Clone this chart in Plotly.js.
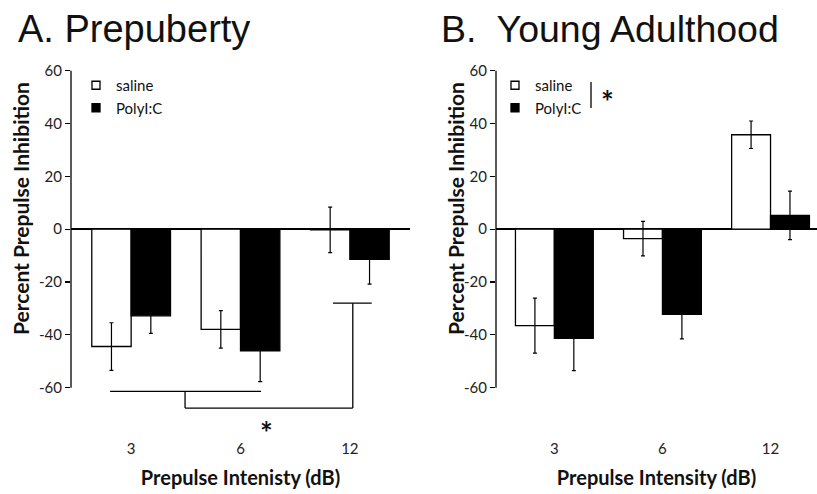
<!DOCTYPE html>
<html>
<head>
<meta charset="utf-8">
<script src="https://cdn.plot.ly/plotly-3.0.1.min.js"></script>
<style>html,body{margin:0;padding:0;background:#fff;}#chart{width:817px;height:494px;}</style>
</head>
<body>
<div id="chart"></div>
<script>
// ---- data ----
var categories = ['3', '6', '12'];
var prepubertySaline = [-44.4, -37.9, -0.3];
var prepubertySalineErr = [9.0, 7.1, 8.6];
var prepubertyPoly = [-32.8, -46.0, -11.4];
var prepubertyPolyErr = [6.6, 11.7, 9.4];
var adultSaline = [-36.5, -3.6, 35.7];
var adultSalineErr = [10.4, 6.5, 5.2];
var adultPoly = [-41.3, -32.2, 5.2];
var adultPolyErr = [12.2, 9.3, 9.2];
var yTicks = [-60, -40, -20, 0, 20, 40, 60];
var seriesNames = ['saline', 'PolyI:C'];

var FONT = 'Lato, "Open Sans", sans-serif';
var W = 817, H = 494;
function px(x) { return x / W; }
function py(y) { return 1 - y / H; }

function barTrace(vals, errs, isSaline, xa, ya) {
  return {
    type: 'bar', x: categories, y: vals, xaxis: xa, yaxis: ya,
    name: isSaline ? seriesNames[0] : seriesNames[1],
    showlegend: false,
    marker: { color: isSaline ? '#ffffff' : '#000000', line: { color: '#000000', width: 1.3 } },
    error_y: { type: 'data', array: errs, visible: true, color: '#000000', thickness: 1.2, width: 2 },
    hoverinfo: 'x+y'
  };
}
function legendTrace(isSaline, legendId) {
  return {
    type: 'scatter', mode: 'markers', x: [null], y: [null],
    name: isSaline ? seriesNames[0] : seriesNames[1],
    legend: legendId, legendgroup: legendId + (isSaline ? 's' : 'p'),
    marker: { symbol: 'square', size: 8, color: isSaline ? '#ffffff' : '#000000', line: { color: '#000000', width: 1.3 } },
    xaxis: legendId === 'legend' ? 'x' : 'x2', yaxis: legendId === 'legend' ? 'y' : 'y2',
    hoverinfo: 'skip'
  };
}

var data = [
  barTrace(prepubertySaline, prepubertySalineErr, true, 'x', 'y'),
  barTrace(prepubertyPoly, prepubertyPolyErr, false, 'x', 'y'),
  barTrace(adultSaline, adultSalineErr, true, 'x2', 'y2'),
  barTrace(adultPoly, adultPolyErr, false, 'x2', 'y2'),
  legendTrace(true, 'legend'), legendTrace(false, 'legend'),
  legendTrace(true, 'legend2'), legendTrace(false, 'legend2')
];

var yDomain = [py(438), py(70.5)];
var yAxisBase = {
  domain: yDomain, range: [-79, 60], tickvals: yTicks, ticktext: yTicks.map(String),
  ticks: 'outside', ticklen: 5, tickcolor: '#000', tickwidth: 1.2,
  showline: false, showgrid: false, zeroline: true, zerolinecolor: '#000', zerolinewidth: 1.5,
  tickfont: { family: FONT, size: 15, color: '#222' }, fixedrange: true
};
var xAxisBase = {
  type: 'category', showline: false, showgrid: false, zeroline: false, ticks: '',
  tickfont: { family: FONT, size: 15, color: '#222' }, fixedrange: true
};

var layout = {
  width: W, height: H,
  margin: { l: 0, r: 0, t: 0, b: 0 },
  paper_bgcolor: '#fff', plot_bgcolor: 'rgba(0,0,0,0)',
  barmode: 'group', bargap: 0.28, bargroupgap: 0,
  xaxis: Object.assign({}, xAxisBase, {
    domain: [px(71), px(410)], range: [-0.55, 2.55], anchor: 'y',
    title: { text: 'Prepulse Intenisty (dB)', font: { family: FONT, size: 20, color: '#111', weight: 'bold' }, standoff: 14 }
  }),
  yaxis: Object.assign({}, yAxisBase, { anchor: 'x' }),
  xaxis2: Object.assign({}, xAxisBase, {
    domain: [px(496), 1], range: [-0.54, 2.43], anchor: 'y2',
    title: { text: 'Prepulse Intensity (dB)', font: { family: FONT, size: 20, color: '#111', weight: 'bold' }, standoff: 14 }
  }),
  yaxis2: Object.assign({}, yAxisBase, { anchor: 'x2' }),
  legend: {
    x: px(76), y: py(69), xanchor: 'left', yanchor: 'top', bgcolor: 'rgba(0,0,0,0)',
    font: { family: FONT, size: 15, color: '#111' }, tracegroupgap: 0, itemclick: false, itemdoubleclick: false
  },
  legend2: {
    x: px(495), y: py(69), xanchor: 'left', yanchor: 'top', bgcolor: 'rgba(0,0,0,0)',
    font: { family: FONT, size: 15, color: '#111' }, tracegroupgap: 0, itemclick: false, itemdoubleclick: false
  },
  shapes: [
    // y axis lines (from -60 to 60)
    { type: 'line', xref: 'x domain', yref: 'y', x0: 0, x1: 0, y0: -60, y1: 60, line: { color: '#000', width: 1.3 } },
    { type: 'line', xref: 'x2 domain', yref: 'y2', x0: 0, x1: 0, y0: -60, y1: 60, line: { color: '#000', width: 1.3 } },
    // significance bracket panel A
    { type: 'line', xref: 'x', yref: 'y', x0: -0.193, x1: 1.188, y0: -61.4, y1: -61.4, line: { color: '#000', width: 1.3 } },
    { type: 'line', xref: 'x', yref: 'y', x0: 0.493, x1: 0.493, y0: -61.4, y1: -67.7, line: { color: '#000', width: 1.3 } },
    { type: 'line', xref: 'x', yref: 'y', x0: 0.493, x1: 2.027, y0: -67.7, y1: -67.7, line: { color: '#000', width: 1.3 } },
    { type: 'line', xref: 'x', yref: 'y', x0: 2.027, x1: 2.027, y0: -67.7, y1: -28.0, line: { color: '#000', width: 1.3 } },
    { type: 'line', xref: 'x', yref: 'y', x0: 1.846, x1: 2.2, y0: -28.0, y1: -28.0, line: { color: '#000', width: 1.3 } },
    // legend bracket panel B
    { type: 'line', xref: 'paper', yref: 'paper', x0: px(591), x1: px(591), y0: py(82), y1: py(108), line: { color: '#000', width: 1.3 } }
  ],
  annotations: [
    { text: 'A. Prepuberty', xref: 'paper', yref: 'paper', x: px(16), y: py(29), xanchor: 'left', yanchor: 'middle', showarrow: false,
      font: { family: '"Liberation Sans", Arial, sans-serif', size: 38, color: '#111' } },
    { text: 'B.  Young Adulthood', xref: 'paper', yref: 'paper', x: px(439), y: py(29), xanchor: 'left', yanchor: 'middle', showarrow: false,
      font: { family: '"Liberation Sans", Arial, sans-serif', size: 37.5, color: '#111' } },
    { text: 'Percent Prepulse Inhibition', xref: 'paper', yref: 'paper', x: px(20), y: py(209), textangle: -90, showarrow: false,
      xanchor: 'center', yanchor: 'middle', font: { family: FONT, size: 21, color: '#111', weight: 'bold' } },
    { text: 'Percent Prepulse Inhibition', xref: 'paper', yref: 'paper', x: px(455), y: py(209), textangle: -90, showarrow: false,
      xanchor: 'center', yanchor: 'middle', font: { family: FONT, size: 21, color: '#111', weight: 'bold' } },
    { text: '*', xref: 'x', yref: 'y', x: 1.241, y: -74.6, showarrow: false, xanchor: 'center', yanchor: 'middle', yshift: -6,
      font: { family: FONT, size: 30, color: '#111', weight: 'bold' } },
    { text: '*', xref: 'paper', yref: 'paper', x: px(607), y: py(95), showarrow: false, xanchor: 'center', yanchor: 'middle', yshift: -6,
      font: { family: FONT, size: 30, color: '#111', weight: 'bold' } }
  ]
};

Plotly.newPlot('chart', data, layout, { staticPlot: true, displayModeBar: false });
</script>
</body>
</html>
